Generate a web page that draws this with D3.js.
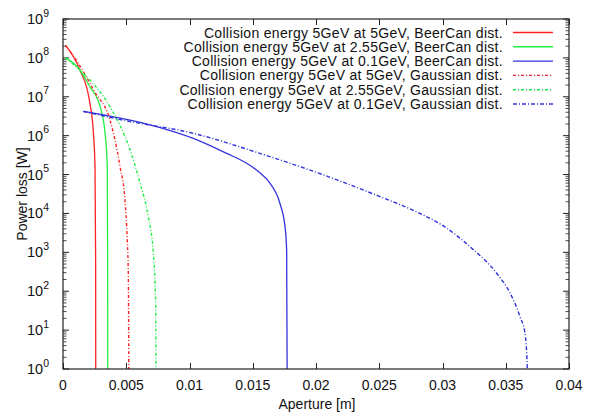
<!DOCTYPE html>
<html>
<head>
<meta charset="utf-8">
<script src="https://cdn.jsdelivr.net/npm/d3@7/dist/d3.min.js"></script>
<style>
  body { margin: 0; background: #fff; }
  svg { display: block; font-family: 'Liberation Sans', Arial, sans-serif; }
</style>
</head>
<body>
<svg id="chart" width="591" height="414"></svg>
<script>
// values: aperture [m] / power loss [W]
const seriesNames = [
  'Collision energy 5GeV at 5GeV, BeerCan dist.',
  'Collision energy 5GeV at 2.55GeV, BeerCan dist.',
  'Collision energy 5GeV at 0.1GeV, BeerCan dist.',
  'Collision energy 5GeV at 5GeV, Gaussian dist.',
  'Collision energy 5GeV at 2.55GeV, Gaussian dist.',
  'Collision energy 5GeV at 0.1GeV, Gaussian dist.',
];

const beer5X = [0.0002, 0.00134, 0.00208, 0.0024, 0.00253, 0.00258, 0.00259];
const beer5Y = [2.1e8, 4.9e7, 8.3e6, 1.2e6, 1.6e5, 630, 0.1];

const beer255X = [0.0002, 0.00121, 0.00213, 0.00292, 0.00332, 0.0035, 0.00353, 0.00354];
const beer255Y = [1.0e8, 5.5e7, 1.8e7, 5.8e6, 1.2e6, 1.6e5, 630, 0.1];

const beer01X = [0.0016, 0.00319, 0.00688, 0.0103, 0.01294, 0.01452, 0.01544,
  0.01636, 0.01715, 0.01755, 0.01768, 0.01773];
const beer01Y = [4.2e6, 3.4e6, 1.9e6, 8.5e5, 3.5e5, 1.95e5, 1.2e5,
  6.0e4, 1.8e4, 4.6e3, 1.15e3, 0.1];

const gauss5X = [0.0002, 0.00119, 0.00253, 0.00372, 0.00451, 0.0049, 0.00508,
  0.00516, 0.00519, 0.0052];
const gauss5Y = [2.1e8, 7.4e7, 1.3e7, 2.5e6, 1.6e5, 2.2e4, 2100, 300, 10, 0.1];

const gauss255X = [0.0002, 0.00158, 0.00372, 0.0053, 0.00609, 0.00674, 0.00714,
  0.00733, 0.00735];
const gauss255Y = [1.0e8, 4.1e7, 5.5e6, 4.3e5, 6.0e4, 8.3e3, 950, 40, 0.1];

const gauss01X = [0.0016, 0.00504, 0.0103, 0.01557, 0.02111, 0.02506, 0.02769,
  0.03033, 0.03217, 0.03428, 0.03534, 0.03613, 0.03652, 0.0367, 0.03672];
const gauss01Y = [4.2e6, 2.4e6, 1.15e6, 3.5e5, 8.5e4, 2.7e4, 1.2e4,
  4.2e3, 1.4e3, 290, 90, 22, 8.3, 1.15, 0.1];

const xTicks = [0, 0.005, 0.01, 0.015, 0.02, 0.025, 0.03, 0.035, 0.04];
const xTickLabels = ['0', '0.005', '0.01', '0.015', '0.02', '0.025', '0.03', '0.035', '0.04'];
const yExponents = [0, 1, 2, 3, 4, 5, 6, 7, 8, 9];

const series = [
  { name: seriesNames[0], xs: beer5X, ys: beer5Y, color: '#f22', dash: null },
  { name: seriesNames[1], xs: beer255X, ys: beer255Y, color: '#2e4', dash: null },
  { name: seriesNames[2], xs: beer01X, ys: beer01Y, color: '#33d', dash: null },
  { name: seriesNames[3], xs: gauss5X, ys: gauss5Y, color: '#f22', dash: '3,2,1,2' },
  { name: seriesNames[4], xs: gauss255X, ys: gauss255Y, color: '#2e4', dash: '3,2,1,2' },
  { name: seriesNames[5], xs: gauss01X, ys: gauss01Y, color: '#33d', dash: '4,2,1,2' },
];

const margin = { top: 19, right: 22, bottom: 45, left: 63 };
const W = 591, H = 414;
const innerW = W - margin.left - margin.right;
const innerH = H - margin.top - margin.bottom;

const svg = d3.select('#chart');

const x = d3.scaleLinear().domain([0, 0.04]).range([margin.left, margin.left + innerW]);
const y = d3.scaleLog().domain([1, 1e9]).range([margin.top + innerH, margin.top]);

svg.append('defs').append('clipPath').attr('id', 'plotClip')
  .append('rect')
  .attr('x', margin.left).attr('y', margin.top)
  .attr('width', innerW).attr('height', innerH);

// ticks, all pointing inward (gnuplot style)
const ticks = svg.append('g').attr('stroke', '#222').attr('stroke-width', 1);
const majorLen = 6, minorLen = 3.5;

xTicks.forEach(v => {
  const px = Math.round(x(v)) + 0.5;
  ticks.append('line').attr('x1', px).attr('x2', px)
    .attr('y1', y.range()[0]).attr('y2', y.range()[0] - majorLen);
  ticks.append('line').attr('x1', px).attr('x2', px)
    .attr('y1', y.range()[1]).attr('y2', y.range()[1] + majorLen);
});

yExponents.forEach(e => {
  const py = y(Math.pow(10, e));
  [[x.range()[0], 1], [x.range()[1], -1]].forEach(([edge, dir]) => {
    ticks.append('line').attr('x1', edge).attr('x2', edge + dir * majorLen)
      .attr('y1', py).attr('y2', py);
    if (e < 9) {
      d3.range(2, 10).forEach(m => {
        const pm = y(m * Math.pow(10, e));
        ticks.append('line').attr('x1', edge).attr('x2', edge + dir * minorLen)
          .attr('y1', pm).attr('y2', pm).attr('stroke-width', 0.8);
      });
    }
  });
});

// tick labels
const xLabels = svg.append('g').attr('font-size', 14).attr('text-anchor', 'middle').attr('fill', '#111');
xTicks.forEach((v, i) => {
  xLabels.append('text').attr('x', x(v)).attr('y', 390).text(xTickLabels[i]);
});

const yLabels = svg.append('g').attr('font-size', 14.5).attr('text-anchor', 'end').attr('fill', '#111');
yExponents.forEach(e => {
  const t = yLabels.append('text').attr('x', 49).attr('y', y(Math.pow(10, e)) + 5);
  t.append('tspan').text('10');
  t.append('tspan').attr('font-size', 10.5).attr('dy', -7.5).text(e);
});

// axis titles
svg.append('text').attr('x', 317).attr('y', 409).attr('text-anchor', 'middle')
  .attr('font-size', 14).attr('fill', '#111').text('Aperture [m]');
svg.append('text').attr('transform', 'translate(27,194) rotate(-90)')
  .attr('text-anchor', 'middle').attr('font-size', 14).attr('fill', '#111')
  .text('Power loss [W]');

// curves
const line = d3.line()
  .x(d => x(d[0]))
  .y(d => y(d[1]))
  .curve(d3.curveMonotoneX);

const curves = svg.append('g').attr('clip-path', 'url(#plotClip)');
series.forEach(s => {
  const pts = s.xs.map((v, i) => [v, s.ys[i]]);
  curves.append('path')
    .attr('d', line(pts))
    .attr('fill', 'none')
    .attr('stroke', s.color)
    .attr('stroke-width', s.dash ? 1.4 : 1.3)
    .attr('stroke-dasharray', s.dash);
});

// frame
svg.append('rect')
  .attr('x', margin.left).attr('y', margin.top)
  .attr('width', innerW).attr('height', innerH)
  .attr('fill', 'none').attr('stroke', '#222').attr('stroke-width', 1.2);

// legend
const legend = svg.append('g').attr('font-size', 14).attr('letter-spacing', 0.3).attr('fill', '#111');
series.forEach((s, i) => {
  const cy = 32.5 + i * 14.3;
  legend.append('text').attr('x', 503).attr('y', cy + 5)
    .attr('text-anchor', 'end').text(s.name);
  legend.append('line')
    .attr('x1', 513).attr('x2', 553).attr('y1', cy).attr('y2', cy)
    .attr('stroke', s.color).attr('stroke-width', 1.4)
    .attr('stroke-dasharray', s.dash);
});
</script>
</body>
</html>
